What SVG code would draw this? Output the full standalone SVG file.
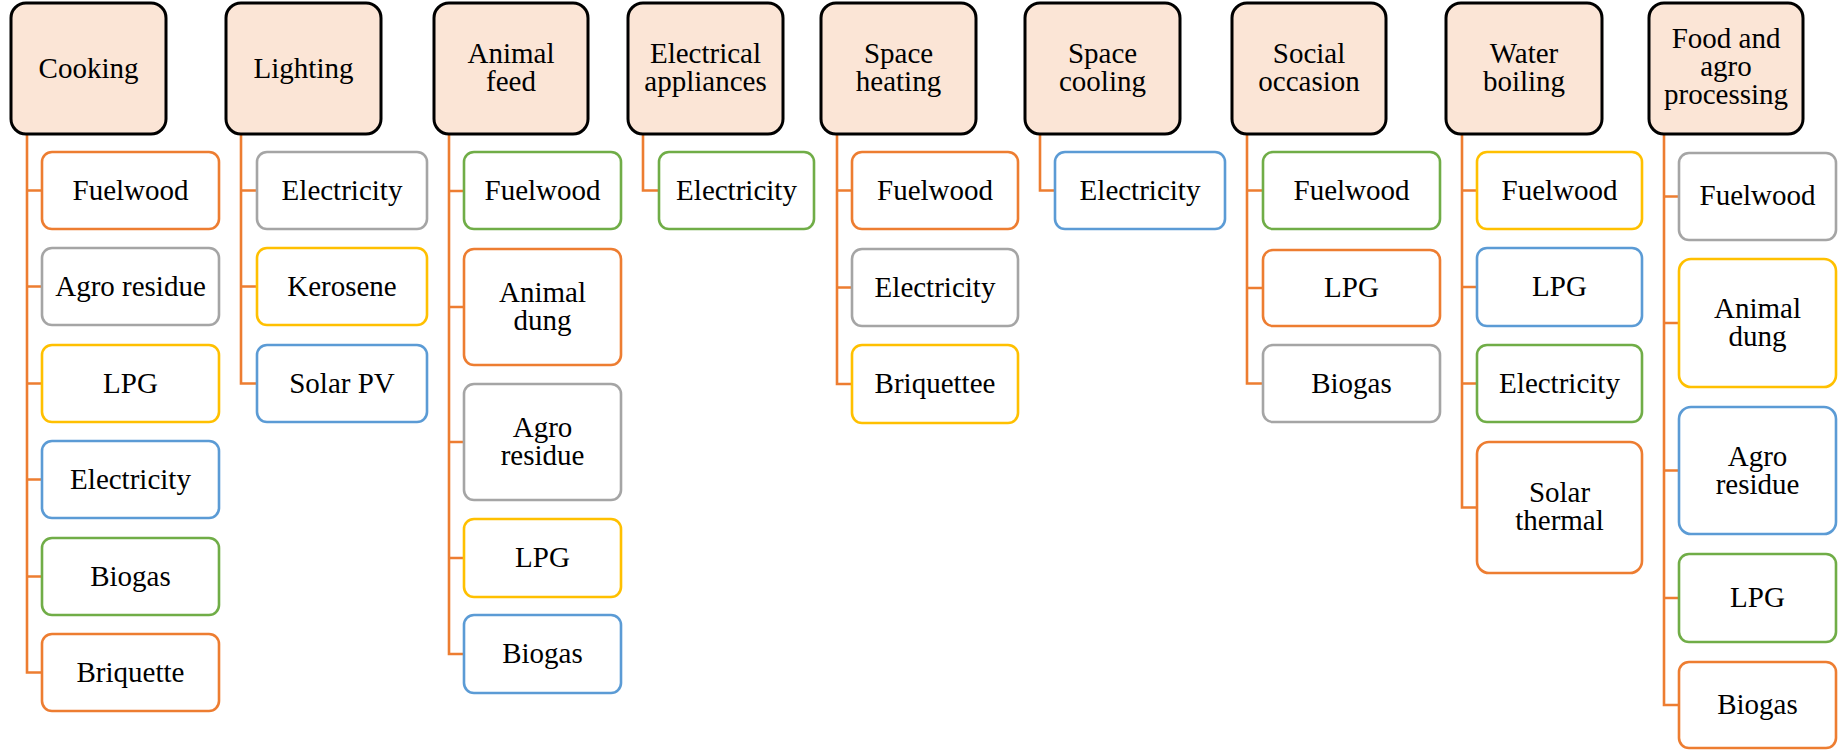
<svg xmlns="http://www.w3.org/2000/svg" width="1838" height="750" viewBox="0 0 1838 750">
<style>
.hdr{fill:#FBE5D6;stroke:#000;stroke-width:3}
.ch{fill:#fff;stroke-width:2.6}
.or{stroke:#ED7D31}.gy{stroke:#A5A5A5}.yl{stroke:#FFC000}.bl{stroke:#5B9BD5}.gr{stroke:#70AD47}
.con{fill:none;stroke:#ED7D31;stroke-width:2.6}
.t{font-family:'Liberation Serif','DejaVu Serif',serif;font-size:29px;fill:#000;text-anchor:middle}
</style>
<rect width="1838" height="750" fill="#fff"/>
<g id="connectors">
<path class="con" d="M27 134V672.5H42M27 190.5H42M27 286.5H42M27 383.5H42M27 479.5H42M27 576.5H42"/>
<path class="con" d="M241 134V383.5H257M241 190.5H257M241 286.5H257"/>
<path class="con" d="M449 134V654H464M449 191H464M449 307H464M449 442H464M449 558H464"/>
<path class="con" d="M643 134V190.5H659"/>
<path class="con" d="M837 134V384H852M837 190.5H852M837 287.5H852"/>
<path class="con" d="M1040 134V190.5H1055"/>
<path class="con" d="M1247 134V383.5H1263M1247 190.5H1263M1247 288H1263"/>
<path class="con" d="M1462 134V507.5H1477M1462 190.5H1477M1462 287H1477M1462 383.5H1477"/>
<path class="con" d="M1664 134V705H1679M1664 196.5H1679M1664 323H1679M1664 470.5H1679M1664 598H1679"/>
</g>
<g font-family="Liberation Serif, DejaVu Serif, serif">
<g id="cooking">
<rect class="hdr" x="11" y="3" width="155" height="131" rx="15"/>
<text class="t" x="88.5" y="77.5">Cooking</text>
</g>
<g id="cooking-fuelwood"><rect class="ch or" x="42" y="152" width="177" height="77" rx="10"/><text class="t" x="130.5" y="199.5">Fuelwood</text></g>
<g id="cooking-agro"><rect class="ch gy" x="42" y="248" width="177" height="77" rx="10"/><text class="t" x="130.5" y="295.5">Agro residue</text></g>
<g id="cooking-lpg"><rect class="ch yl" x="42" y="345" width="177" height="77" rx="10"/><text class="t" x="130.5" y="392.5">LPG</text></g>
<g id="cooking-electricity"><rect class="ch bl" x="42" y="441" width="177" height="77" rx="10"/><text class="t" x="130.5" y="488.5">Electricity</text></g>
<g id="cooking-biogas"><rect class="ch gr" x="42" y="538" width="177" height="77" rx="10"/><text class="t" x="130.5" y="585.5">Biogas</text></g>
<g id="cooking-briquette"><rect class="ch or" x="42" y="634" width="177" height="77" rx="10"/><text class="t" x="130.5" y="681.5">Briquette</text></g>

<g id="lighting">
<rect class="hdr" x="226" y="3" width="155" height="131" rx="15"/>
<text class="t" x="303.5" y="77.5">Lighting</text>
</g>
<g id="lighting-electricity"><rect class="ch gy" x="257" y="152" width="170" height="77" rx="10"/><text class="t" x="342" y="199.5">Electricity</text></g>
<g id="lighting-kerosene"><rect class="ch yl" x="257" y="248" width="170" height="77" rx="10"/><text class="t" x="342" y="295.5">Kerosene</text></g>
<g id="lighting-solarpv"><rect class="ch bl" x="257" y="345" width="170" height="77" rx="10"/><text class="t" x="342" y="392.5">Solar PV</text></g>

<g id="animal-feed">
<rect class="hdr" x="434" y="3" width="154" height="131" rx="15"/>
<text class="t" x="511" y="63">Animal<tspan x="511" dy="28">feed</tspan></text>
</g>
<g id="af-fuelwood"><rect class="ch gr" x="464" y="152" width="157" height="77" rx="10"/><text class="t" x="542.5" y="199.5">Fuelwood</text></g>
<g id="af-dung"><rect class="ch or" x="464" y="249" width="157" height="116" rx="10"/><text class="t" x="542.5" y="302">Animal<tspan x="542.5" dy="28">dung</tspan></text></g>
<g id="af-agro"><rect class="ch gy" x="464" y="384" width="157" height="116" rx="10"/><text class="t" x="542.5" y="437">Agro<tspan x="542.5" dy="28">residue</tspan></text></g>
<g id="af-lpg"><rect class="ch yl" x="464" y="519" width="157" height="78" rx="10"/><text class="t" x="542.5" y="566.5">LPG</text></g>
<g id="af-biogas"><rect class="ch bl" x="464" y="615" width="157" height="78" rx="10"/><text class="t" x="542.5" y="662.5">Biogas</text></g>

<g id="electrical-appliances">
<rect class="hdr" x="628" y="3" width="155" height="131" rx="15"/>
<text class="t" x="705.5" y="63">Electrical<tspan x="705.5" dy="28">appliances</tspan></text>
</g>
<g id="ea-electricity"><rect class="ch gr" x="659" y="152" width="155" height="77" rx="10"/><text class="t" x="736.5" y="199.5">Electricity</text></g>

<g id="space-heating">
<rect class="hdr" x="821" y="3" width="155" height="131" rx="15"/>
<text class="t" x="898.5" y="63">Space<tspan x="898.5" dy="28">heating</tspan></text>
</g>
<g id="sh-fuelwood"><rect class="ch or" x="852" y="152" width="166" height="77" rx="10"/><text class="t" x="935" y="199.5">Fuelwood</text></g>
<g id="sh-electricity"><rect class="ch gy" x="852" y="249" width="166" height="77" rx="10"/><text class="t" x="935" y="296.5">Electricity</text></g>
<g id="sh-briquettee"><rect class="ch yl" x="852" y="345" width="166" height="78" rx="10"/><text class="t" x="935" y="393">Briquettee</text></g>

<g id="space-cooling">
<rect class="hdr" x="1025" y="3" width="155" height="131" rx="15"/>
<text class="t" x="1102.5" y="63">Space<tspan x="1102.5" dy="28">cooling</tspan></text>
</g>
<g id="sc-electricity"><rect class="ch bl" x="1055" y="152" width="170" height="77" rx="10"/><text class="t" x="1140" y="199.5">Electricity</text></g>

<g id="social-occasion">
<rect class="hdr" x="1232" y="3" width="154" height="131" rx="15"/>
<text class="t" x="1309" y="63">Social<tspan x="1309" dy="28">occasion</tspan></text>
</g>
<g id="so-fuelwood"><rect class="ch gr" x="1263" y="152" width="177" height="77" rx="10"/><text class="t" x="1351.5" y="199.5">Fuelwood</text></g>
<g id="so-lpg"><rect class="ch or" x="1263" y="250" width="177" height="76" rx="10"/><text class="t" x="1351.5" y="297">LPG</text></g>
<g id="so-biogas"><rect class="ch gy" x="1263" y="345" width="177" height="77" rx="10"/><text class="t" x="1351.5" y="392.5">Biogas</text></g>

<g id="water-boiling">
<rect class="hdr" x="1446" y="3" width="156" height="131" rx="15"/>
<text class="t" x="1524" y="63">Water<tspan x="1524" dy="28">boiling</tspan></text>
</g>
<g id="wb-fuelwood"><rect class="ch yl" x="1477" y="152" width="165" height="77" rx="10"/><text class="t" x="1559.5" y="199.5">Fuelwood</text></g>
<g id="wb-lpg"><rect class="ch bl" x="1477" y="248" width="165" height="78" rx="10"/><text class="t" x="1559.5" y="296">LPG</text></g>
<g id="wb-electricity"><rect class="ch gr" x="1477" y="345" width="165" height="77" rx="10"/><text class="t" x="1559.5" y="392.5">Electricity</text></g>
<g id="wb-solar"><rect class="ch or" x="1477" y="442" width="165" height="131" rx="12"/><text class="t" x="1559.5" y="502">Solar<tspan x="1559.5" dy="28">thermal</tspan></text></g>

<g id="food-agro-processing">
<rect class="hdr" x="1649" y="3" width="154" height="131" rx="15"/>
<text class="t" x="1726" y="48">Food and<tspan x="1726" dy="28">agro</tspan><tspan x="1726" dy="28">processing</tspan></text>
</g>
<g id="fp-fuelwood"><rect class="ch gy" x="1679" y="153" width="157" height="87" rx="10"/><text class="t" x="1757.5" y="205">Fuelwood</text></g>
<g id="fp-dung"><rect class="ch yl" x="1679" y="259" width="157" height="128" rx="12"/><text class="t" x="1757.5" y="318">Animal<tspan x="1757.5" dy="28">dung</tspan></text></g>
<g id="fp-agro"><rect class="ch bl" x="1679" y="407" width="157" height="127" rx="12"/><text class="t" x="1757.5" y="465.5">Agro<tspan x="1757.5" dy="28">residue</tspan></text></g>
<g id="fp-lpg"><rect class="ch gr" x="1679" y="554" width="157" height="88" rx="10"/><text class="t" x="1757.5" y="607">LPG</text></g>
<g id="fp-biogas"><rect class="ch or" x="1679" y="662" width="157" height="86" rx="10"/><text class="t" x="1757.5" y="714">Biogas</text></g>
</g>
</svg>
